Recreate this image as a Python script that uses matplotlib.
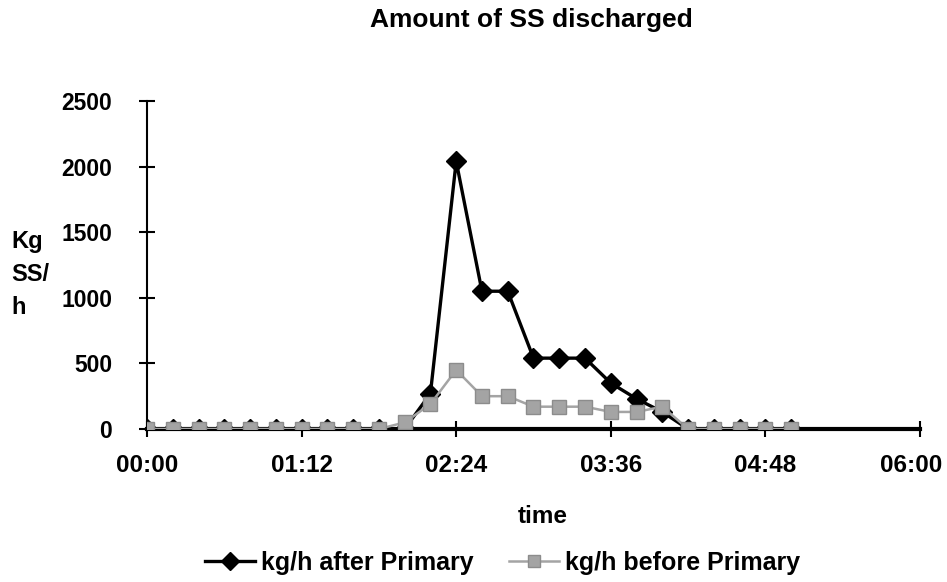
import numpy as np
import matplotlib.pyplot as plt
import matplotlib.transforms as mtransforms

plt.rcParams['font.family'] = ['Liberation Sans', 'DejaVu Sans']
plt.rcParams['font.weight'] = 'bold'

# minutes after 00:00, one sample every 12 min
minutes = list(range(0, 301, 12))
after_primary = [0, 0, 0, 0, 0, 0, 0, 0, 0, 0, 0,
                 270, 2040, 1050, 1050, 540, 540, 540, 350, 230, 130,
                 0, 0, 0, 0, 0]
before_primary = [0, 0, 0, 0, 0, 0, 0, 0, 0, 0, 50,
                  190, 450, 250, 250, 170, 170, 170, 130, 130, 170,
                  0, 0, 0, 0, 0]
tick_minutes = [0, 72, 144, 216, 288, 360]
tick_labels = ["00:00", "01:12", "02:24", "03:36", "04:48", "06:00"]

fig = plt.figure(figsize=(9.47, 5.82), dpi=100)
ax = fig.add_axes([0.1552, 0.2629, 0.8163, 0.5636])

ax.plot(minutes, after_primary, color='black', lw=2.4, marker='D',
        markersize=10.5, label='kg/h after Primary', zorder=3)
ax.plot(minutes, before_primary, color='#a4a4a4', lw=1.8, marker='s',
        markersize=10, markeredgecolor='#8c8c8c', label='kg/h before Primary',
        zorder=4)

ax.set_xlim(0, 360)
ax.set_ylim(0, 2500)
ax.set_xticks(tick_minutes)
ax.set_xticklabels(tick_labels)
ax.set_yticks(range(0, 2501, 500))

for s in ['top', 'right']:
    ax.spines[s].set_visible(False)
ax.spines['left'].set_linewidth(1.5)
ax.spines['bottom'].set_linewidth(3)
ax.spines['bottom'].set_zorder(2)
ax.tick_params(axis='both', direction='inout', length=12, width=1.5)
ax.tick_params(axis='y', pad=19, labelsize=16.5)
ax.tick_params(axis='x', pad=12, labelsize=17.5)
for lab in ax.get_xticklabels() + ax.get_yticklabels():
    lab.set_fontweight('bold')

# last time label sits a bit inside the right edge, as in the original
last = ax.get_xticklabels()[-1]
last.set_transform(last.get_transform() +
                   mtransforms.ScaledTranslation(-9 / 100, 0, fig.dpi_scale_trans))

fig.text(0.561, 0.966, "Amount of SS discharged", ha='center', va='center',
         fontsize=19, fontweight='bold')
fig.text(0.573, 0.112, "time", ha='center', va='center',
         fontsize=17.5, fontweight='bold')
fig.text(0.012, 0.529, "Kg\nSS/\nh", ha='left', va='center',
         fontsize=17, fontweight='bold', linespacing=1.55)

leg = fig.legend(loc='center', bbox_to_anchor=(0.531, 0.033), ncol=2,
                 frameon=False, fontsize=18, handlelength=2.0,
                 columnspacing=1.4, handletextpad=0.25, markerscale=0.9)
for t in leg.get_texts():
    t.set_fontweight('bold')

fig.savefig('out.png', dpi=100)
